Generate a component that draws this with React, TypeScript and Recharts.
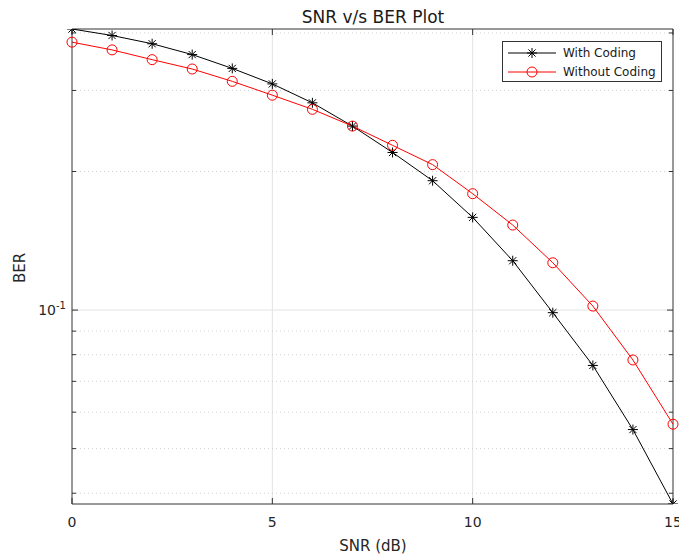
import { LineChart, Line, XAxis, YAxis, ReferenceLine } from "recharts";

const snr = [0, 1, 2, 3, 4, 5, 6, 7, 8, 9, 10, 11, 12, 13, 14, 15];
const withCoding = [
    0.408, 0.395, 0.379, 0.359, 0.335, 0.31, 0.282, 0.251, 0.22, 0.191, 0.159,
    0.128, 0.0987, 0.0758, 0.055, 0.0379,
];
const withoutCoding = [
    0.382, 0.3675, 0.35, 0.334, 0.314, 0.293, 0.273, 0.251, 0.228, 0.207, 0.179,
    0.153, 0.1267, 0.102, 0.0779, 0.0565,
];
const xTicks = [0, 5, 10, 15];
const yTicks = [0.04, 0.05, 0.06, 0.07, 0.08, 0.09, 0.1, 0.2, 0.3, 0.4];
const yMajor = [0.1];

const data = snr.map((s, i) => ({
    snr: s,
    coded: withCoding[i],
    uncoded: withoutCoding[i],
}));

const FONT = "'DejaVu Sans', 'Liberation Sans', sans-serif";
const AXIS = "#333";
const PLOT_W = 601;
const PLOT_H = 475;

function XTick({ x, y, payload }: any) {
    return (
        <g>
            <line x1={x} y1={y} x2={x} y2={y - 6} stroke={AXIS} />
            <line x1={x} y1={y - PLOT_H} x2={x} y2={y - PLOT_H + 6} stroke={AXIS} />
            <text x={x} y={y + 23} textAnchor="middle" fontSize={14} fontFamily={FONT} fill="#262626">
                {payload.value}
            </text>
        </g>
    );
}

function YTick({ x, y, payload }: any) {
    const major = yMajor.includes(payload.value);
    const len = major ? 6 : 4;
    return (
        <g>
            <line x1={x} y1={y} x2={x + len} y2={y} stroke={AXIS} />
            <line x1={x + PLOT_W} y1={y} x2={x + PLOT_W - len} y2={y} stroke={AXIS} />
            {major && (
                <text x={x - 6} y={y + 5} textAnchor="end" fontSize={14} fontFamily={FONT} fill="#262626">
                    10
                    <tspan dy={-6} fontSize={10}>
                        -1
                    </tspan>
                </text>
            )}
        </g>
    );
}

function StarDot({ cx, cy }: any) {
    const r = 5;
    const d = 3.6;
    return (
        <g stroke="#000" strokeWidth={1}>
            <line x1={cx - r} y1={cy} x2={cx + r} y2={cy} />
            <line x1={cx} y1={cy - r} x2={cx} y2={cy + r} />
            <line x1={cx - d} y1={cy - d} x2={cx + d} y2={cy + d} />
            <line x1={cx - d} y1={cy + d} x2={cx + d} y2={cy - d} />
        </g>
    );
}

function CircleDot({ cx, cy }: any) {
    return <circle cx={cx} cy={cy} r={5} fill="none" stroke="#ff0000" strokeWidth={1} />;
}

export default function App() {
    return (
        <div style={{ position: "fixed", left: 0, top: 0, width: 679, height: 555, background: "#fff" }}>
            <LineChart
                width={679}
                height={555}
                data={data}
                margin={{ top: 29, right: 6, bottom: 0, left: 0 }}
            >
                <text x={373} y={23} textAnchor="middle" fontSize={17} fontFamily={FONT} fill="#1a1a1a">
                    SNR v/s BER Plot
                </text>
                <text
                    x={25}
                    y={268}
                    transform="rotate(-90 25 268)"
                    textAnchor="middle"
                    fontSize={15}
                    fontFamily={FONT}
                    fill="#262626"
                >
                    BER
                </text>
                <text x={373} y={551} textAnchor="middle" fontSize={15} fontFamily={FONT} fill="#262626">
                    SNR (dB)
                </text>
                {[5, 10].map((v) => (
                    <ReferenceLine key={`gx${v}`} x={v} stroke="#e3e3e3" />
                ))}
                {yTicks.map((v) => (
                    <ReferenceLine
                        key={`gy${v}`}
                        y={v}
                        stroke={yMajor.includes(v) ? "#e3e3e3" : "#d0d0d0"}
                        strokeDasharray={yMajor.includes(v) ? undefined : "1 3"}
                    />
                ))}
                <XAxis
                    type="number"
                    dataKey="snr"
                    domain={[0, 15]}
                    ticks={xTicks}
                    height={51}
                    tickSize={0}
                    tickMargin={0}
                    tickLine={false}
                    stroke={AXIS}
                    tick={<XTick />}
                    interval={0}
                />
                <YAxis
                    scale="log"
                    type="number"
                    domain={[0.0379, 0.408]}
                    allowDataOverflow
                    ticks={yTicks}
                    width={72}
                    tickSize={0}
                    tickMargin={0}
                    tickLine={false}
                    stroke={AXIS}
                    tick={<YTick />}
                    interval={0}
                />
                <ReferenceLine y={0.408} stroke={AXIS} />
                <ReferenceLine x={15} stroke={AXIS} />
                <Line
                    type="linear"
                    dataKey="coded"
                    stroke="#000000"
                    strokeWidth={1}
                    dot={<StarDot />}
                    isAnimationActive={false}
                />
                <Line
                    type="linear"
                    dataKey="uncoded"
                    stroke="#ff0000"
                    strokeWidth={1}
                    dot={<CircleDot />}
                    isAnimationActive={false}
                />
            </LineChart>
            <div
                style={{
                    position: "absolute",
                    left: 502,
                    top: 41,
                    width: 158,
                    height: 39,
                    border: "1px solid #333",
                    background: "#fff",
                    fontFamily: FONT,
                    fontSize: 12,
                    color: "#1a1a1a",
                }}
            >
                <div style={{ display: "flex", alignItems: "center", height: 19, marginTop: 1 }}>
                    <svg width={52} height={14} style={{ marginLeft: 5 }}>
                        <line x1={0} y1={7} x2={48} y2={7} stroke="#000" />
                        <StarDot cx={24} cy={7} />
                    </svg>
                    <span style={{ marginLeft: 3 }}>With Coding</span>
                </div>
                <div style={{ display: "flex", alignItems: "center", height: 19 }}>
                    <svg width={52} height={14} style={{ marginLeft: 5 }}>
                        <line x1={0} y1={7} x2={48} y2={7} stroke="#ff0000" />
                        <CircleDot cx={24} cy={7} />
                    </svg>
                    <span style={{ marginLeft: 3 }}>Without Coding</span>
                </div>
            </div>
        </div>
    );
}
